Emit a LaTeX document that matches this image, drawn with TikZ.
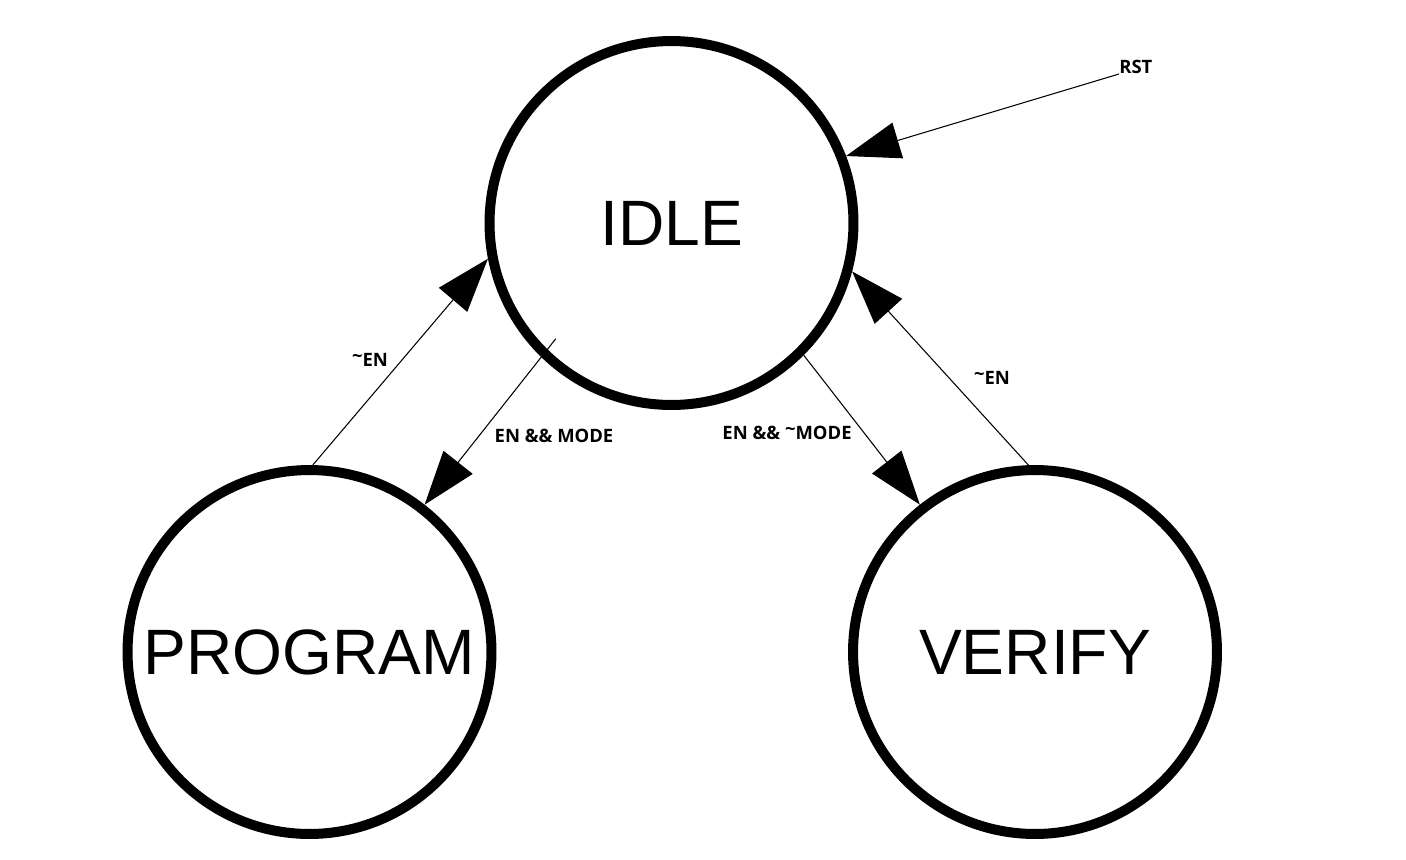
\documentclass[tikz,border=0pt]{standalone}
\usepackage{fontspec}
\setmainfont{Liberation Sans}
\newfontfamily\condfont{Open Sans}
\usetikzlibrary{positioning,calc,arrows.meta}

\newcommand{\negsym}{\raisebox{0.2em}{\textasciitilde}}

\begin{document}
\begin{tikzpicture}[x=0.02cm, y=-0.02cm,
    state/.style={draw, circle, line width=0.2cm, minimum size=7.28cm, inner sep=0pt, font=\fontsize{36.5}{44}\selectfont},
    trans/.style={-{Triangle[length=1.08cm, width=0.74cm]}, line width=0.6pt},
    cond/.style={inner sep=0pt, font=\condfont\bfseries\fontsize{10.5}{12}\selectfont}]
        \useasboundingbox (0,0) rectangle (1406,859);

        % States
        \node[state] (idle) at (671.5,223) {IDLE};
        \node[state] (program) at (309.5,652) {PROGRAM};
        \node[state] (verify) at (1035,652) {VERIFY};

        % Reset
        \node[cond, anchor=south west] (rst) at (1119,74) {RST};
        \draw[trans] (rst.south west) -- (idle.21);

        % IDLE -> PROGRAM and back
        \coordinate (emstart) at ($(idle.center)!0.875!(idle.225)$);
        \draw[trans] (emstart) -- (program.52);
        \node[cond] (enmode) at (554,436) {EN \&\& MODE};
        \draw[trans] (program.89) -- (idle.191);
        \node[cond] (nenp) at (370,360) {\negsym EN};

        % IDLE -> VERIFY and back
        \draw[trans] (idle.315) -- (verify.128);
        \node[cond] (ennmode) at (787,433) {EN \&\& \negsym MODE};
        \draw[trans] (verify.92) -- (idle.345);
        \node[cond] (nenv) at (992,378) {\negsym EN};
    \end{tikzpicture}
\end{document}
